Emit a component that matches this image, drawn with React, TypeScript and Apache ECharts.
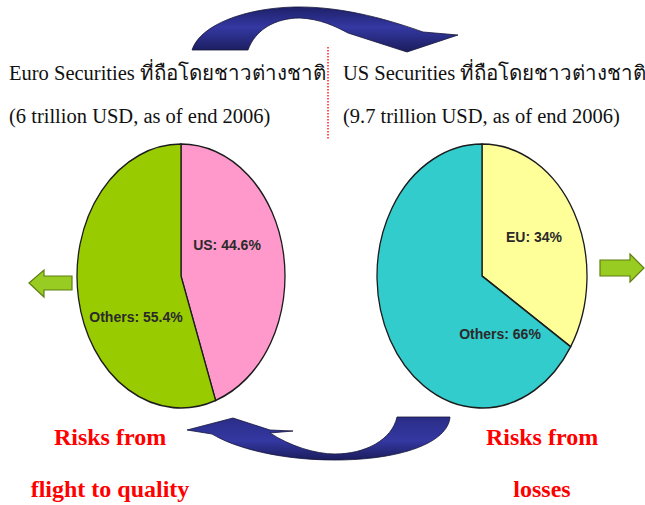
import React, { useEffect, useRef } from 'react';
import * as echarts from 'echarts';

// ---- data ----
const euroCategories = ['US', 'Others'];
const euroValues = [44.6, 55.4];
const usCategories = ['EU', 'Others'];
const usValues = [34, 66];

const headerLeft = ['Euro Securities ที่ถือโดยชาวต่างชาติ', '(6 trillion USD, as of end 2006)'];
const headerRight = ['US Securities ที่ถือโดยชาวต่างชาติ', '(9.7 trillion USD, as of end 2006)'];
const riskLeft = ['Risks from', 'flight to quality'];
const riskRight = ['Risks from', 'losses'];

// ---- decorative shapes ----
const TOP_ARROW_D =
  'M 192 50 C 200 25 245 8 295 7 C 345 6 395 22 423 32 L 458 35 L 407 52 L 348 33 C 335 26 320 19 300 18 C 275 18 255 30 248 50 Z';
const BOTTOM_ARROW_D =
  'M 397 417 L 450 417 C 448 443 400 460 335 460 C 280 460 235 448 212 434 L 187 430 L 233 418 L 270 430 L 293 431 L 270 433 C 290 446 315 454 335 454 C 365 454 392 440 397 417 Z';

echarts.graphic.registerShape('arrowTop', echarts.graphic.extendPath(TOP_ARROW_D, {}));
echarts.graphic.registerShape('arrowBottom', echarts.graphic.extendPath(BOTTOM_ARROW_D, {}));

const SERIF = "'Liberation Serif', 'Times New Roman', 'DejaVu Serif', serif";
const SANS = "'Liberation Sans', Arial, sans-serif";

function pieSeries(
  name: string,
  cats: string[],
  vals: number[],
  cx: number,
  cy: number,
  rx: number,
  ry: number,
  colors: string[],
  labelOffsets: number[][]
) {
  const total = vals.reduce((a, b) => a + b, 0);
  const starts: number[] = [];
  let acc = 0;
  vals.forEach((v) => {
    starts.push(acc);
    acc += v;
  });
  return {
    type: 'custom',
    name,
    coordinateSystem: 'none',
    data: vals.map((v, i) => ({ name: cats[i], value: [v, starts[i], total] })),
    renderItem: (params: any, api: any) => {
      const i = params.dataIndex;
      const v = api.value(0);
      const s = api.value(1);
      const t = api.value(2);
      const a0 = -Math.PI / 2 + (s / t) * Math.PI * 2;
      const a1 = a0 + (v / t) * Math.PI * 2;
      return {
        type: 'group',
        x: cx,
        y: cy,
        children: [
          {
            type: 'sector',
            scaleY: ry / rx,
            shape: { cx: 0, cy: 0, r: rx, r0: 0, startAngle: a0, endAngle: a1, clockwise: true },
            style: { fill: colors[i], stroke: '#1c1c1c', lineWidth: 1.3, strokeNoScale: true },
          },
          {
            type: 'text',
            x: labelOffsets[i][0],
            y: labelOffsets[i][1],
            style: {
              text: `${cats[i]}: ${v}%`,
              fill: '#2a2a2a',
              fontSize: 14,
              fontWeight: 'bold',
              fontFamily: SANS,
              align: 'center',
              verticalAlign: 'middle',
            },
          },
        ],
      };
    },
  };
}

export default function App() {
  const ref = useRef<HTMLDivElement>(null);

  useEffect(() => {
    if (!ref.current) return;
    const chart = echarts.init(ref.current, undefined, { renderer: 'svg' });

    const headerText = (text: string, x: number, y: number) => ({
      type: 'text',
      x,
      y,
      style: { text, fill: '#111', fontSize: 20.5, fontFamily: SERIF, align: 'left', verticalAlign: 'middle' },
    });
    const riskText = (text: string, x: number, y: number) => ({
      type: 'text',
      x,
      y,
      style: {
        text,
        fill: '#ff0000',
        fontSize: 24,
        fontWeight: 'bold',
        fontFamily: SERIF,
        align: 'center',
        verticalAlign: 'middle',
      },
    });

    const blueGrad = new echarts.graphic.LinearGradient(0, 0, 0, 1, [
      { offset: 0, color: '#1e2068' },
      { offset: 0.45, color: '#3438a2' },
      { offset: 1, color: '#1b1d5c' },
    ]);
    const blueGrad2 = new echarts.graphic.LinearGradient(0, 0, 0, 1, [
      { offset: 0, color: '#2a2d86' },
      { offset: 0.55, color: '#3438a2' },
      { offset: 1, color: '#1b1d5c' },
    ]);

    chart.setOption({
      animation: false,
      backgroundColor: '#ffffff',
      graphic: [
        { type: 'arrowTop', x: 0, y: 0, style: { fill: blueGrad, stroke: '#15153a', lineWidth: 0.8 } },
        { type: 'arrowBottom', x: 0, y: 0, style: { fill: blueGrad2, stroke: '#15153a', lineWidth: 0.8 } },
        {
          type: 'line',
          shape: { x1: 328, y1: 47, x2: 328, y2: 140 },
          style: { stroke: '#ff2020', lineWidth: 1.5, lineDash: [1.5, 1.5] },
        },
        headerText(headerLeft[0], 9, 73),
        headerText(headerLeft[1], 9, 116),
        headerText(headerRight[0], 343, 73),
        headerText(headerRight[1], 343, 116),
        {
          type: 'polygon',
          shape: { points: [[29, 283], [44, 270], [44, 276], [72, 276], [72, 290], [44, 290], [44, 297]] },
          style: { fill: '#99cc22', stroke: '#5f7f10', lineWidth: 1.2 },
        },
        {
          type: 'polygon',
          shape: { points: [[600, 260], [630, 260], [630, 254], [644, 268], [630, 282], [630, 276], [600, 276]] },
          style: { fill: '#99cc22', stroke: '#5f7f10', lineWidth: 1.2 },
        },
        riskText(riskLeft[0], 110, 437),
        riskText(riskLeft[1], 110, 489),
        riskText(riskRight[0], 542, 437),
        riskText(riskRight[1], 542, 489),
      ],
      series: [
        pieSeries('Euro Securities', euroCategories, euroValues, 181, 276, 104, 132, ['#ff99cc', '#99cc00'], [
          [46, -31],
          [-45, 41],
        ]),
        pieSeries('US Securities', usCategories, usValues, 482, 276, 105, 132, ['#ffff99', '#33cccc'], [
          [52, -39],
          [18, 58],
        ]),
      ],
    });

    return () => {
      chart.dispose();
    };
  }, []);

  return (
    <div
      ref={ref}
      style={{ position: 'fixed', left: 0, top: 0, width: 645, height: 505, background: '#fff' }}
    />
  );
}
